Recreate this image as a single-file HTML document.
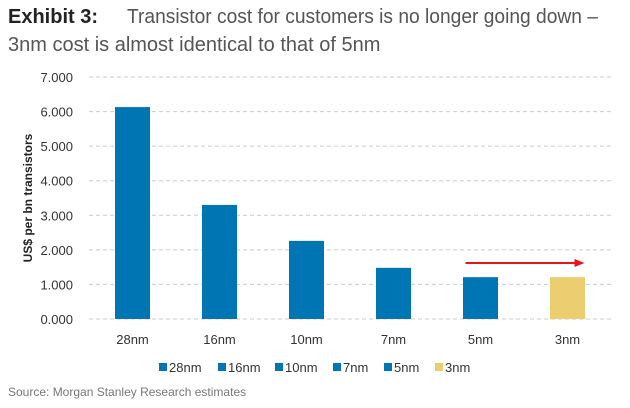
<!DOCTYPE html>
<html><head><meta charset="utf-8"><style>
body{margin:0;background:#fff;width:630px;height:408px;overflow:hidden;font-family:"Liberation Sans",sans-serif}
.t{position:absolute;font-family:"Liberation Sans",sans-serif;font-size:20px;color:#555;white-space:nowrap}
</style></head><body>
<div class="t" style="top:6px;left:8px"><b style="color:#222">Exhibit 3:</b></div>
<div class="t" style="top:6px;left:127px;transform:scaleX(0.96);transform-origin:0 0">Transistor cost for customers is no longer going down –</div>
<div class="t" style="top:34px;left:8px">3nm cost is almost identical to that of 5nm</div>
<svg id="c" width="630" height="408" style="position:absolute;left:0;top:0"></svg>
<div style="position:absolute;left:8px;top:385px;font-size:12px;color:#777">Source: Morgan Stanley Research estimates</div>
<script>
const categories=["28nm","16nm","10nm","7nm","5nm","3nm"];
const values=[6.13,3.30,2.26,1.48,1.21,1.21];
const ticks=[0,1,2,3,4,5,6,7];
const colors=["#0075b4","#0075b4","#0075b4","#0075b4","#0075b4","#ebce70"];
const ns="http://www.w3.org/2000/svg";
const svg=document.getElementById('c');
const x0=89,x1=611,yb=319,yt=77,ymax=7;
const bw=(x1-x0)/categories.length;
const y=v=>yb-(v/ymax)*(yb-yt);
const xc=i=>x0+bw*(i+0.5);
function mk(t,a){const e=document.createElementNS(ns,t);for(const k in a)e.setAttribute(k,a[k]);svg.appendChild(e);return e;}
ticks.forEach(t=>{
 const g=mk('line',{x1:x0,x2:x1,y1:y(t),y2:y(t),stroke:'#ccc','stroke-dasharray':'4,3'});
 
 
 const l=mk('text',{x:73,y:y(t)+5,'text-anchor':'end','font-size':'13','fill':'#333','font-family':'Liberation Sans'});
 l.textContent=t.toFixed(3);
 
 
});
const yl=mk('text',{x:0,y:0,transform:'translate(32,198) rotate(-90)','text-anchor':'middle','font-size':'12','font-weight':'bold','fill':'#222'});
yl.textContent='US$ per bn transistors';


categories.forEach((c,i)=>{
 const b=mk('rect',{x:xc(i)-17.5,y:y(values[i]),width:35,height:yb-y(values[i]),fill:colors[i]});
 
 
 const l=mk('text',{x:xc(i),y:344,'text-anchor':'middle','font-size':'13','fill':'#333'});
 l.textContent=c;
 
 
});
const ay=263;
const ar=mk('line',{x1:xc(4)-15,x2:xc(5)+8,y1:ay,y2:ay,stroke:'#e8141c','stroke-width':2});


const ah=mk('polygon',{points:`${xc(5)+17},${ay} ${xc(5)+7},${ay-4} ${xc(5)+7},${ay+4}`,fill:'#e8141c'});


const lx=[159,218,275,333,384,435];
categories.forEach((c,i)=>{
 const s=mk('rect',{x:lx[i],y:363,width:8,height:8,fill:colors[i]});
 
 
 const t=mk('text',{x:lx[i]+10,y:372,'font-size':'13','fill':'#333'});
 t.textContent=c;
 
 
});
</script>
</body></html>
